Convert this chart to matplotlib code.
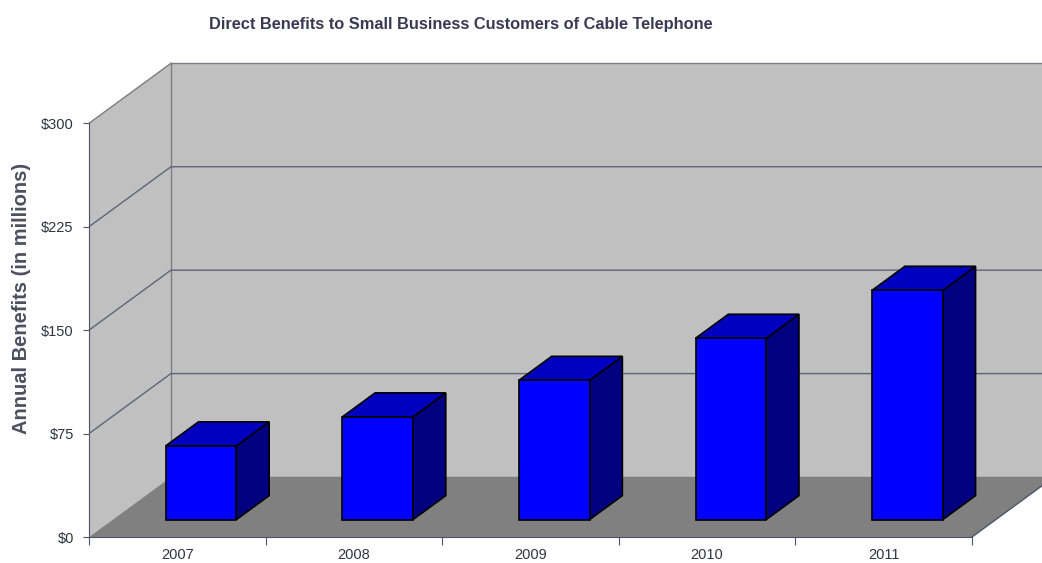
import matplotlib.pyplot as plt
from matplotlib.patches import Polygon

plt.rcParams['font.family'] = ['Liberation Sans', 'DejaVu Sans']

years = ['2007', '2008', '2009', '2010', '2011']
benefits = [53.5, 74.5, 101, 131.5, 166.3]
y_ticks = [0, 75, 150, 225, 300]
y_labels = ['$0', '$75', '$150', '$225', '$300']

# oblique "3D" look: depth offset expressed in data units
DX, DY = 0.464, 43.5
D0, D1 = 0.29, 0.69      # front/back of the bars as fraction of depth
BAR_W = 0.4
N = len(years)
YMAX = 300

AXIS_C = '#50506a'
WALL_C = '#c0c0c0'
FLOOR_C = '#808080'
GRID_C = '#62627a'


def proj(x, y, d):
    return (x + d * DX, y + d * DY)


fig = plt.figure(figsize=(10.42, 5.63), dpi=100)
ax = fig.add_axes([89 / 1042, 26 / 563, 953 / 1042, 487 / 563])
ax.set_xlim(0, 953 / 176.6)
ax.set_ylim(0, 487 / 1.379)
ax.patch.set_alpha(0)

# walls and floor
floor = [proj(0, 0, 0), proj(N, 0, 0), proj(N, 0, 1), proj(0, 0, 1)]
back = [proj(0, 0, 1), proj(N, 0, 1), proj(N, YMAX, 1), proj(0, YMAX, 1)]
side = [proj(0, 0, 0), proj(0, 0, 1), proj(0, YMAX, 1), proj(0, YMAX, 0)]
ax.add_patch(Polygon(side, closed=True, fc=WALL_C, ec='none', zorder=1))
ax.add_patch(Polygon(back, closed=True, fc=WALL_C, ec='none', zorder=1))
ax.add_patch(Polygon(floor, closed=True, fc=FLOOR_C, ec='none', zorder=1))

# wall borders
for a, b in [((0, YMAX, 0), (0, YMAX, 1)), ((0, YMAX, 1), (N, YMAX, 1)),
             ((0, 0, 1), (0, YMAX, 1)), ((0, 0, 1), (N, 0, 1))]:
    p, q = proj(*a), proj(*b)
    ax.plot([p[0], q[0]], [p[1], q[1]], color='#7c7c84', lw=1, zorder=2)

# floor right edge
p, q = proj(N, 0, 0), proj(N, 0, 1)
ax.plot([p[0], q[0]], [p[1], q[1]], color=AXIS_C, lw=1, zorder=2)

# gridlines on side and back wall
for v in y_ticks[1:-1]:
    a, b, c = proj(0, v, 0), proj(0, v, 1), proj(N, v, 1)
    ax.plot([a[0], b[0], c[0]], [a[1], b[1], c[1]], color=GRID_C, lw=1, zorder=2)

# bars
for i, v in enumerate(benefits):
    x0 = i + 0.5 - BAR_W / 2
    x1 = i + 0.5 + BAR_W / 2
    front = [proj(x0, 0, D0), proj(x1, 0, D0), proj(x1, v, D0), proj(x0, v, D0)]
    top = [proj(x0, v, D0), proj(x1, v, D0), proj(x1, v, D1), proj(x0, v, D1)]
    right = [proj(x1, 0, D0), proj(x1, 0, D1), proj(x1, v, D1), proj(x1, v, D0)]
    for poly, fc in [(right, '#000080'), (top, '#0000c0'), (front, '#0000ff')]:
        ax.add_patch(Polygon(poly, closed=True, fc=fc, ec='black', lw=1.2,
                             joinstyle='miter', zorder=3))

# axes
for s in ['top', 'right']:
    ax.spines[s].set_visible(False)
ax.spines['left'].set_bounds(0, YMAX)
ax.spines['bottom'].set_bounds(0, N)
for s in ['left', 'bottom']:
    ax.spines[s].set_color(AXIS_C)
    ax.spines[s].set_zorder(4)

ax.set_yticks(y_ticks)
ax.set_yticklabels(y_labels)
ax.tick_params(axis='y', direction='out', length=4, color=AXIS_C, pad=7,
               labelsize=10.5, labelcolor='#333344')

ax.set_xticks(range(N + 1))
ax.set_xticklabels([])
ax.set_xticks([i + 0.5 for i in range(N)], minor=True)
ax.set_xticklabels(years, minor=True)
ax.tick_params(axis='x', which='major', direction='out', length=6, color=AXIS_C)
ax.tick_params(axis='x', which='minor', length=0, pad=8, labelsize=10.5,
               labelcolor='#333344')

fig.text(461 / 1042, 1 - 25 / 563,
         'Direct Benefits to Small Business Customers of Cable Telephone',
         ha='center', va='center', fontsize=11.8, fontweight='bold', color='#3a3a55')
fig.text(22 / 1042, 1 - 298 / 563, 'Annual Benefits (in millions)',
         ha='center', va='center', rotation=90, fontsize=14.5,
         fontweight='bold', color='#4e4e60')

fig.savefig('out.png', dpi=100)
